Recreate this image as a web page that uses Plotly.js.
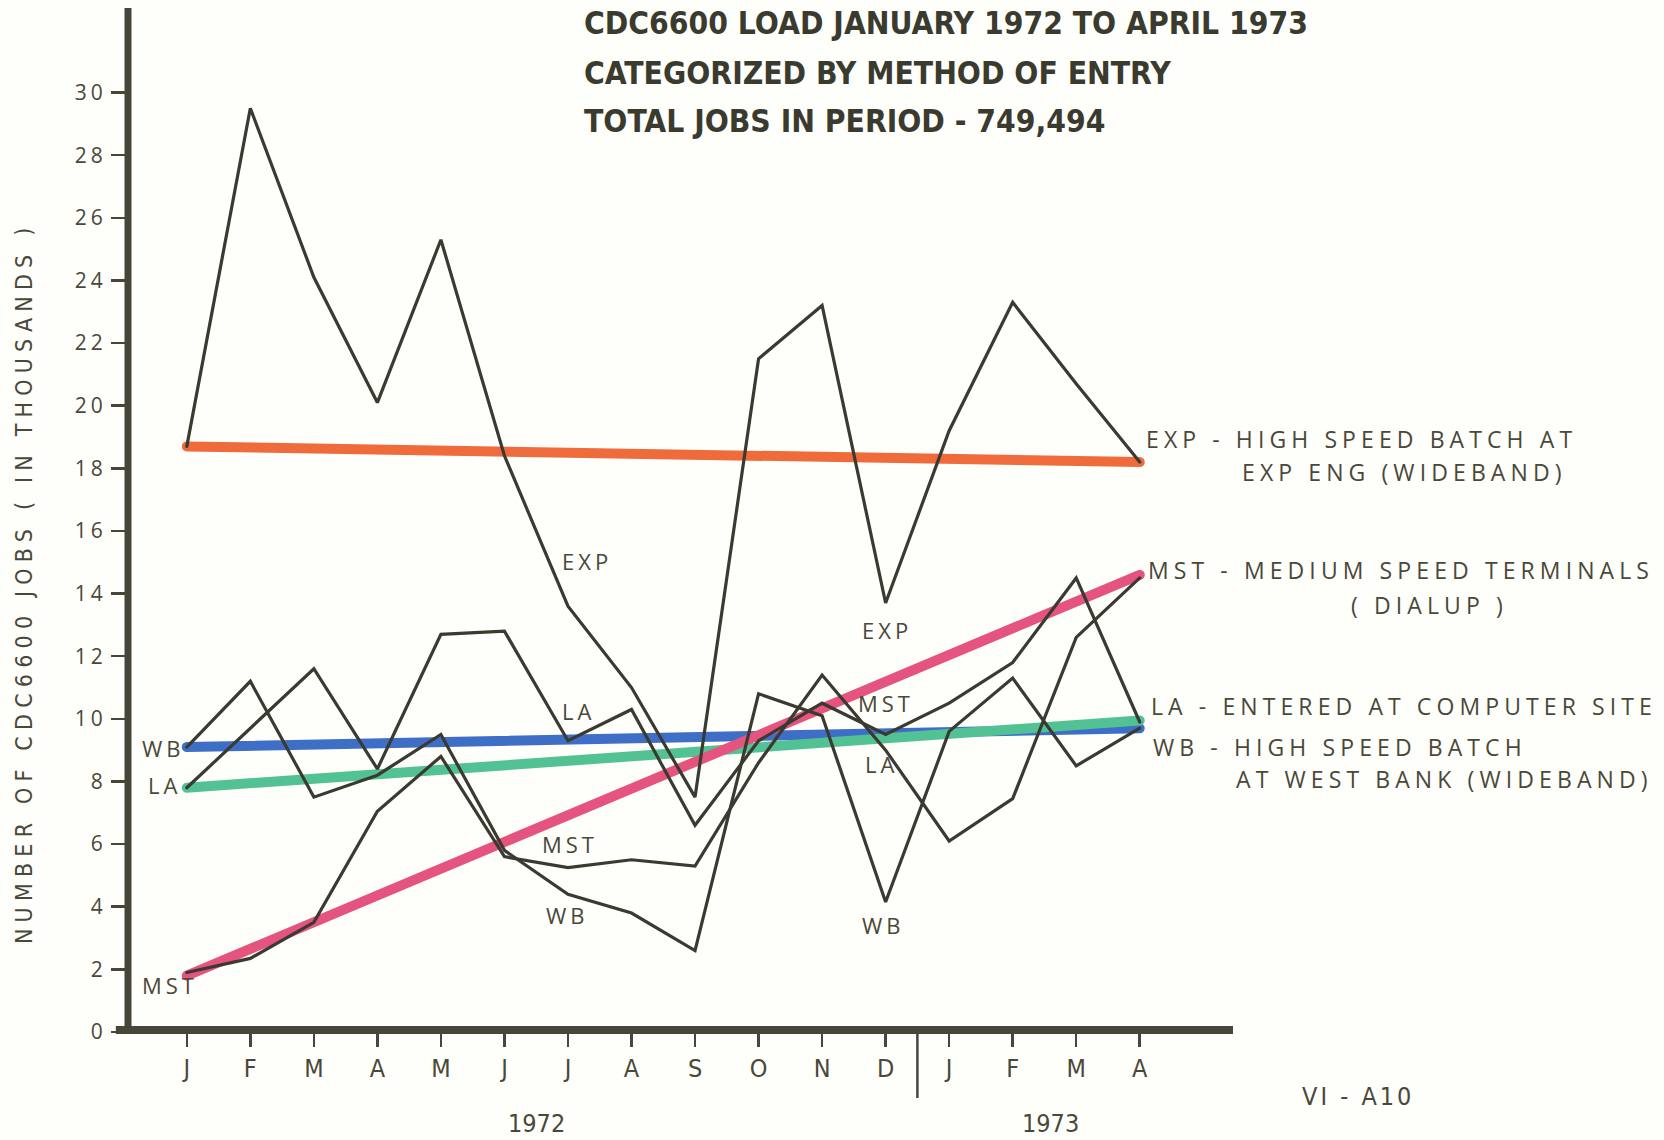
<!DOCTYPE html>
<html>
<head>
<meta charset="utf-8">
<script src="https://cdn.plot.ly/plotly-3.0.1.min.js"></script>
<style>
  html, body { margin: 0; padding: 0; background: #fefefb; }
  #chart { width: 1664px; height: 1140px; }
  path.js-line { stroke-linecap: round; }
</style>
</head>
<body>
<div id="chart"></div>
<script>
// ---- data (thousands of jobs per month) ----
const months = ['J','F','M','A','M','J','J','A','S','O','N','D','J','F','M','A'];
const years = ['1972', '1973'];
const expJobs = [18.7, 29.5, 24.1, 20.1, 25.3, 18.4, 13.6, 11.0, 7.5, 21.5, 23.2, 13.7, 19.2, 23.3, 20.7, 18.2];
const laJobs  = [7.8, 9.7, 11.6, 8.4, 12.7, 12.8, 9.3, 10.3, 6.6, 9.3, 10.5, 9.5, 10.5, 11.8, 14.5, 9.9];
const wbJobs  = [9.1, 11.2, 7.5, 8.2, 9.5, 5.8, 4.4, 3.8, 2.6, 10.8, 10.1, 4.15, 9.6, 11.3, 8.5, 9.7];
const mstJobs = [1.9, 2.35, 3.5, 7.05, 8.8, 5.6, 5.25, 5.5, 5.3, 8.6, 11.4, 9.0, 6.1, 7.45, 12.6, 14.5];
// trend lines: value at first month and at last month
const expTrend = [18.7, 18.2];
const laTrend  = [7.8, 9.95];
const wbTrend  = [9.1, 9.7];
const mstTrend = [1.8, 14.6];
const yTicks = [0, 2, 4, 6, 8, 10, 12, 14, 16, 18, 20, 22, 24, 26, 28, 30];
const titleLines = ['CDC6600 LOAD JANUARY 1972 TO APRIL 1973', 'CATEGORIZED BY METHOD OF ENTRY', 'TOTAL JOBS IN PERIOD - 749,494'];
const yTitle = 'NUMBER OF CDC6600 JOBS ( IN THOUSANDS )';
const legendNotes = [
  ['EXP - HIGH SPEED BATCH AT', 'EXP ENG (WIDEBAND)'],
  ['MST - MEDIUM SPEED TERMINALS', '( DIALUP )'],
  ['LA - ENTERED AT COMPUTER SITE'],
  ['WB - HIGH SPEED BATCH', 'AT WEST BANK (WIDEBAND)']
];
const pageCode = 'VI - A10';

// ---- styling ----
const idx = months.map((m, i) => i);
const ends = [0, months.length - 1];
const INK = '#3b3a30';
const AXIS = '#48463b';
const TXT = '#4a4838';
const NARROW = '"Liberation Sans Narrow", "DejaVu Sans Condensed", sans-serif';
const SANS = '"Open Sans", "Liberation Sans", sans-serif';
const sp = (t, ls) => '<span style="letter-spacing:' + ls + 'px">' + t + '</span>';

function trend(vals, color) {
  return { x: ends, y: vals, mode: 'lines', type: 'scatter', hoverinfo: 'skip',
           line: { color: color, width: 10 }, showlegend: false };
}
function series(vals, name) {
  return { x: idx, y: vals, mode: 'lines', type: 'scatter', name: name,
           line: { color: INK, width: 3.2 }, showlegend: false };
}

const data = [
  trend(expTrend, '#EF6B3C'),
  trend(wbTrend, '#3E6EC6'),
  trend(laTrend, '#52C295'),
  trend(mstTrend, '#E4547F'),
  series(expJobs, 'EXP'),
  series(laJobs, 'LA'),
  series(wbJobs, 'WB'),
  series(mstJobs, 'MST')
];

function lab(text, x, y, anchor, size, ls, xref) {
  return { text: sp(text, ls || 4), x: x, y: y, xref: xref || 'x', yref: 'y', showarrow: false,
           xanchor: anchor || 'center', yanchor: 'middle',
           font: { family: SANS, size: size || 22, color: TXT } };
}
function titleLine(text, y) {
  return { text: text, x: 0.4109, y: y, xref: 'paper', yref: 'paper', showarrow: false,
           xanchor: 'left', yanchor: 'middle',
           font: { family: NARROW, size: 31.5, color: '#3b3a2f', weight: 'bold' } };
}

const annotations = [
  titleLine(titleLines[0], 0.9854),
  titleLine(titleLines[1], 0.9365),
  titleLine(titleLines[2], 0.8896),
  lab('EXP', 6.30, 15.05), lab('EXP', 11.02, 12.85),
  lab('LA', 6.16, 10.25), lab('MST', 6.03, 6.0), lab('WB', 6.0, 3.75),
  lab('MST', 11.0, 10.5), lab('LA', 10.93, 8.56), lab('WB', 10.97, 3.42),
  lab('WB', 0.01, 9.07, 'right'), lab('LA', -0.06, 7.9, 'right'), lab('MST', 0.2, 1.5, 'right'),
  lab(legendNotes[0][0], 15.07, 18.94, 'left', 23, 5.1),
  lab(legendNotes[0][1], 1.0063, 17.89, 'left', 23, 5.1, 'paper'),
  lab(legendNotes[1][0], 15.10, 14.76, 'left', 23, 5.1),
  lab(legendNotes[1][1], 1.1776, 13.62, 'center', 23, 5.1, 'paper'),
  lab(legendNotes[2][0], 15.15, 10.41, 'left', 23, 5.1),
  lab(legendNotes[3][0], 15.18, 9.10, 'left', 23, 5.1),
  lab(legendNotes[3][1], 1.0009, 8.08, 'left', 23, 5.1, 'paper'),
  { text: sp(yTitle, 6.2), x: -0.094, y: 0.4385, xref: 'paper', yref: 'paper', showarrow: false,
    textangle: -90, xanchor: 'center', yanchor: 'middle',
    font: { family: NARROW, size: 23, color: TXT } },
  { text: years[0], x: 5.5, y: -0.089, xref: 'x', yref: 'paper', showarrow: false,
    xanchor: 'center', yanchor: 'middle', font: { family: NARROW, size: 25, color: TXT } },
  { text: years[1], x: 13.6, y: -0.089, xref: 'x', yref: 'paper', showarrow: false,
    xanchor: 'center', yanchor: 'middle', font: { family: NARROW, size: 25, color: TXT } },
  { text: sp(pageCode, 3), x: 1.1131, y: -0.0625, xref: 'paper', yref: 'paper', showarrow: false,
    xanchor: 'center', yanchor: 'middle', font: { family: NARROW, size: 25, color: TXT } }
];

const layout = {
  width: 1664, height: 1140,
  margin: { l: 128, r: 431, t: 8, b: 108, pad: 0 },
  paper_bgcolor: '#fefefb', plot_bgcolor: '#fefefb',
  showlegend: false,
  xaxis: {
    range: [-0.9255, 16.468], showgrid: false, zeroline: false, showline: false,
    tickvals: idx, ticktext: months, ticks: 'outside', ticklen: 14, tickwidth: 2.5,
    tickcolor: AXIS, tickfont: { family: NARROW, size: 25, color: TXT }
  },
  yaxis: {
    range: [0, 32.7], showgrid: false, zeroline: false, showline: false,
    tickvals: yTicks, ticktext: yTicks.map(v => sp(String(v), 4)),
    ticks: 'outside', ticklen: 16, tickwidth: 2.5, tickcolor: AXIS,
    tickfont: { family: SANS, size: 21, color: TXT }
  },
  shapes: [
    { type: 'line', xref: 'paper', yref: 'paper', x0: -0.011, x1: 1, y0: 0.002, y1: 0.002,
      line: { color: AXIS, width: 8 }, layer: 'above' },
    { type: 'line', xref: 'paper', yref: 'paper', x0: 0, x1: 0, y0: 0.002, y1: 1,
      line: { color: AXIS, width: 7 }, layer: 'above' },
    { type: 'line', xref: 'x', yref: 'paper', x0: 11.5, x1: 11.5, y0: 0, y1: -0.0645,
      line: { color: AXIS, width: 2.5 }, layer: 'above' }
  ],
  annotations: annotations
};

Plotly.newPlot('chart', data, layout, { displayModeBar: false, staticPlot: true });
</script>
</body>
</html>
